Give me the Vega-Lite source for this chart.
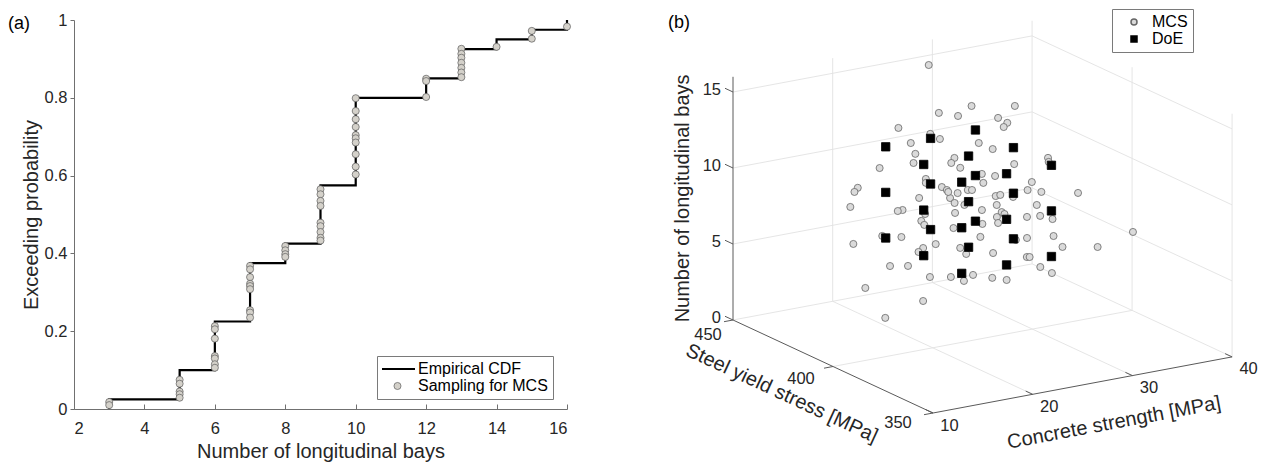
{
  "$schema": "https://vega.github.io/schema/vega-lite/v6.json",
  "autosize": {"type": "pad"},
  "padding": {"left": 8, "top": 8, "right": 0, "bottom": 0},
  "background": "white",
  "spacing": 68,
  "config": {
    "font": "Liberation Sans",
    "view": {"stroke": null},
    "axis": {"labelFont": "Liberation Sans", "titleFont": "Liberation Sans", "labelColor": "#262626", "titleColor": "#262626", "titleFontWeight": "normal", "domainColor": "#707070", "tickColor": "#707070", "grid": false},
    "legend": {"labelFont": "Liberation Sans", "labelColor": "#000000"},
    "text": {"font": "Liberation Sans", "color": "#262626"}
  },
  "resolve": {
    "scale": {"x": "independent", "y": "independent", "shape": "independent", "fill": "independent", "stroke": "independent", "size": "independent", "strokeWidth": "independent"},
    "legend": {"shape": "independent", "fill": "independent", "stroke": "independent", "size": "independent", "strokeWidth": "independent"}
  },
  "datasets": {
    "cdf": [
      {"nb": 3, "p": 0}, {"nb": 3, "p": 0.025}, {"nb": 5, "p": 0.1}, {"nb": 6, "p": 0.225},
      {"nb": 7, "p": 0.375}, {"nb": 8, "p": 0.425}, {"nb": 9, "p": 0.575}, {"nb": 10, "p": 0.8},
      {"nb": 12, "p": 0.85}, {"nb": 13, "p": 0.925}, {"nb": 14, "p": 0.95}, {"nb": 15, "p": 0.975},
      {"nb": 16, "p": 1}
    ],
    "samples": [
      {"nb": 3, "p": 0.018, "series": "Sampling for MCS"}, {"nb": 3, "p": 0.010, "series": "Sampling for MCS"},
      {"nb": 5, "p": 0.075, "series": "Sampling for MCS"}, {"nb": 5, "p": 0.065, "series": "Sampling for MCS"},
      {"nb": 5, "p": 0.045, "series": "Sampling for MCS"}, {"nb": 5, "p": 0.038, "series": "Sampling for MCS"},
      {"nb": 5, "p": 0.029, "series": "Sampling for MCS"},
      {"nb": 6, "p": 0.213, "series": "Sampling for MCS"}, {"nb": 6, "p": 0.205, "series": "Sampling for MCS"},
      {"nb": 6, "p": 0.181, "series": "Sampling for MCS"}, {"nb": 6, "p": 0.136, "series": "Sampling for MCS"},
      {"nb": 6, "p": 0.130, "series": "Sampling for MCS"}, {"nb": 6, "p": 0.115, "series": "Sampling for MCS"},
      {"nb": 6, "p": 0.106, "series": "Sampling for MCS"},
      {"nb": 7, "p": 0.368, "series": "Sampling for MCS"}, {"nb": 7, "p": 0.359, "series": "Sampling for MCS"},
      {"nb": 7, "p": 0.339, "series": "Sampling for MCS"}, {"nb": 7, "p": 0.322, "series": "Sampling for MCS"},
      {"nb": 7, "p": 0.316, "series": "Sampling for MCS"}, {"nb": 7, "p": 0.308, "series": "Sampling for MCS"},
      {"nb": 7, "p": 0.254, "series": "Sampling for MCS"}, {"nb": 7, "p": 0.248, "series": "Sampling for MCS"},
      {"nb": 7, "p": 0.235, "series": "Sampling for MCS"},
      {"nb": 8, "p": 0.419, "series": "Sampling for MCS"}, {"nb": 8, "p": 0.408, "series": "Sampling for MCS"},
      {"nb": 8, "p": 0.398, "series": "Sampling for MCS"}, {"nb": 8, "p": 0.391, "series": "Sampling for MCS"},
      {"nb": 9, "p": 0.565, "series": "Sampling for MCS"}, {"nb": 9, "p": 0.552, "series": "Sampling for MCS"},
      {"nb": 9, "p": 0.535, "series": "Sampling for MCS"}, {"nb": 9, "p": 0.522, "series": "Sampling for MCS"},
      {"nb": 9, "p": 0.479, "series": "Sampling for MCS"}, {"nb": 9, "p": 0.470, "series": "Sampling for MCS"},
      {"nb": 9, "p": 0.455, "series": "Sampling for MCS"}, {"nb": 9, "p": 0.440, "series": "Sampling for MCS"},
      {"nb": 9, "p": 0.433, "series": "Sampling for MCS"},
      {"nb": 10, "p": 0.799, "series": "Sampling for MCS"}, {"nb": 10, "p": 0.766, "series": "Sampling for MCS"},
      {"nb": 10, "p": 0.745, "series": "Sampling for MCS"}, {"nb": 10, "p": 0.725, "series": "Sampling for MCS"},
      {"nb": 10, "p": 0.704, "series": "Sampling for MCS"}, {"nb": 10, "p": 0.696, "series": "Sampling for MCS"},
      {"nb": 10, "p": 0.685, "series": "Sampling for MCS"}, {"nb": 10, "p": 0.655, "series": "Sampling for MCS"},
      {"nb": 10, "p": 0.623, "series": "Sampling for MCS"}, {"nb": 10, "p": 0.603, "series": "Sampling for MCS"},
      {"nb": 12, "p": 0.849, "series": "Sampling for MCS"}, {"nb": 12, "p": 0.843, "series": "Sampling for MCS"},
      {"nb": 12, "p": 0.802, "series": "Sampling for MCS"},
      {"nb": 13, "p": 0.926, "series": "Sampling for MCS"}, {"nb": 13, "p": 0.913, "series": "Sampling for MCS"},
      {"nb": 13, "p": 0.903, "series": "Sampling for MCS"}, {"nb": 13, "p": 0.890, "series": "Sampling for MCS"},
      {"nb": 13, "p": 0.877, "series": "Sampling for MCS"}, {"nb": 13, "p": 0.865, "series": "Sampling for MCS"},
      {"nb": 13, "p": 0.853, "series": "Sampling for MCS"},
      {"nb": 14, "p": 0.931, "series": "Sampling for MCS"},
      {"nb": 15, "p": 0.972, "series": "Sampling for MCS"}, {"nb": 15, "p": 0.952, "series": "Sampling for MCS"},
      {"nb": 16, "p": 0.983, "series": "Sampling for MCS"}
    ],
    "grid3d": [
      {"fc1": 20, "fy1": 350, "nb1": 0, "fc2": 20, "fy2": 450, "nb2": 0},
      {"fc1": 30, "fy1": 350, "nb1": 0, "fc2": 30, "fy2": 450, "nb2": 0},
      {"fc1": 40, "fy1": 350, "nb1": 0, "fc2": 40, "fy2": 450, "nb2": 0},
      {"fc1": 10, "fy1": 400, "nb1": 0, "fc2": 40, "fy2": 400, "nb2": 0},
      {"fc1": 10, "fy1": 450, "nb1": 0, "fc2": 40, "fy2": 450, "nb2": 0},
      {"fc1": 10, "fy1": 450, "nb1": 5, "fc2": 40, "fy2": 450, "nb2": 5},
      {"fc1": 10, "fy1": 450, "nb1": 10, "fc2": 40, "fy2": 450, "nb2": 10},
      {"fc1": 10, "fy1": 450, "nb1": 15, "fc2": 40, "fy2": 450, "nb2": 15},
      {"fc1": 20, "fy1": 450, "nb1": 0, "fc2": 20, "fy2": 450, "nb2": 16},
      {"fc1": 30, "fy1": 450, "nb1": 0, "fc2": 30, "fy2": 450, "nb2": 16},
      {"fc1": 40, "fy1": 450, "nb1": 0, "fc2": 40, "fy2": 450, "nb2": 16},
      {"fc1": 40, "fy1": 450, "nb1": 5, "fc2": 40, "fy2": 350, "nb2": 5},
      {"fc1": 40, "fy1": 450, "nb1": 10, "fc2": 40, "fy2": 350, "nb2": 10},
      {"fc1": 40, "fy1": 450, "nb1": 15, "fc2": 40, "fy2": 350, "nb2": 15},
      {"fc1": 40, "fy1": 400, "nb1": 0, "fc2": 40, "fy2": 400, "nb2": 16},
      {"fc1": 40, "fy1": 350, "nb1": 0, "fc2": 40, "fy2": 350, "nb2": 16}
    ],
    "axis3d": [
      {"fc1": 10, "fy1": 450, "nb1": 0, "fc2": 10, "fy2": 450, "nb2": 16},
      {"fc1": 10, "fy1": 450, "nb1": 0, "fc2": 10, "fy2": 350, "nb2": 0},
      {"fc1": 10, "fy1": 350, "nb1": 0, "fc2": 40, "fy2": 350, "nb2": 0},
      {"fc1": 10, "fy1": 450, "nb1": 0, "fc2": 10, "fy2": 454, "nb2": 0},
      {"fc1": 10, "fy1": 450, "nb1": 5, "fc2": 10, "fy2": 454, "nb2": 5},
      {"fc1": 10, "fy1": 450, "nb1": 10, "fc2": 10, "fy2": 454, "nb2": 10},
      {"fc1": 10, "fy1": 450, "nb1": 15, "fc2": 10, "fy2": 454, "nb2": 15},
      {"fc1": 10, "fy1": 350, "nb1": 0, "fc2": 9.1, "fy2": 350, "nb2": 0},
      {"fc1": 10, "fy1": 400, "nb1": 0, "fc2": 9.1, "fy2": 400, "nb2": 0},
      {"fc1": 10, "fy1": 450, "nb1": 0, "fc2": 9.1, "fy2": 450, "nb2": 0},
      {"fc1": 10, "fy1": 350, "nb1": 0, "fc2": 10, "fy2": 353.5, "nb2": 0},
      {"fc1": 20, "fy1": 350, "nb1": 0, "fc2": 20, "fy2": 353.5, "nb2": 0},
      {"fc1": 30, "fy1": 350, "nb1": 0, "fc2": 30, "fy2": 353.5, "nb2": 0},
      {"fc1": 40, "fy1": 350, "nb1": 0, "fc2": 40, "fy2": 353.5, "nb2": 0}
    ],
    "labels3d": [
      {"fc": 10, "fy": 450, "nb": 0, "label": "0", "axis": "z"},
      {"fc": 10, "fy": 450, "nb": 5, "label": "5", "axis": "z"},
      {"fc": 10, "fy": 450, "nb": 10, "label": "10", "axis": "z"},
      {"fc": 10, "fy": 450, "nb": 15, "label": "15", "axis": "z"},
      {"fc": 10, "fy": 350, "nb": 0, "label": "350", "axis": "fy350"},
      {"fc": 10, "fy": 400, "nb": 0, "label": "400", "axis": "fy400"},
      {"fc": 10, "fy": 450, "nb": 0, "label": "450", "axis": "fy450"},
      {"fc": 10, "fy": 350, "nb": 0, "label": "10", "axis": "fc"},
      {"fc": 20, "fy": 350, "nb": 0, "label": "20", "axis": "fc"},
      {"fc": 30, "fy": 350, "nb": 0, "label": "30", "axis": "fc"},
      {"fc": 40, "fy": 350, "nb": 0, "label": "40", "axis": "fc"}
    ],
    "scatter3d": [
      {"fc": 25.8, "fy": 430.9, "nb": 16, "method": "MCS"},
      {"fc": 21.5, "fy": 404.4, "nb": 15, "method": "MCS"},
      {"fc": 22.4, "fy": 399.3, "nb": 15, "method": "MCS"},
      {"fc": 16.3, "fy": 398.7, "nb": 15, "method": "MCS"},
      {"fc": 20.0, "fy": 401.2, "nb": 14, "method": "MCS"},
      {"fc": 19.9, "fy": 395.9, "nb": 14, "method": "MCS"},
      {"fc": 17.2, "fy": 397.0, "nb": 14, "method": "MCS"},
      {"fc": 18.2, "fy": 399.7, "nb": 13, "method": "MCS"},
      {"fc": 19.0, "fy": 404.6, "nb": 12, "method": "MCS"},
      {"fc": 15.8, "fy": 405.6, "nb": 12, "method": "MCS"},
      {"fc": 22.7, "fy": 402.6, "nb": 12, "method": "MCS"},
      {"fc": 21.7, "fy": 399.2, "nb": 12, "method": "MCS"},
      {"fc": 21.6, "fy": 394.2, "nb": 12, "method": "MCS"},
      {"fc": 22.1, "fy": 413.9, "nb": 10, "method": "MCS"},
      {"fc": 21.5, "fy": 410.9, "nb": 10, "method": "MCS"},
      {"fc": 22.0, "fy": 405.4, "nb": 10, "method": "MCS"},
      {"fc": 21.9, "fy": 402.4, "nb": 10, "method": "MCS"},
      {"fc": 11.2, "fy": 393.6, "nb": 12, "method": "MCS"},
      {"fc": 15.0, "fy": 414.2, "nb": 10, "method": "MCS"},
      {"fc": 22.2, "fy": 398.5, "nb": 10, "method": "MCS"},
      {"fc": 18.7, "fy": 400.3, "nb": 10, "method": "MCS"},
      {"fc": 20.9, "fy": 395.8, "nb": 10, "method": "MCS"},
      {"fc": 22.8, "fy": 403.0, "nb": 9, "method": "MCS"},
      {"fc": 12.4, "fy": 403.3, "nb": 10, "method": "MCS"},
      {"fc": 18.0, "fy": 405.1, "nb": 9, "method": "MCS"},
      {"fc": 17.5, "fy": 405.0, "nb": 9, "method": "MCS"},
      {"fc": 21.3, "fy": 395.3, "nb": 9, "method": "MCS"},
      {"fc": 19.0, "fy": 398.8, "nb": 9, "method": "MCS"},
      {"fc": 20.0, "fy": 405.7, "nb": 8, "method": "MCS"},
      {"fc": 19.6, "fy": 402.2, "nb": 8, "method": "MCS"},
      {"fc": 21.2, "fy": 395.6, "nb": 8, "method": "MCS"},
      {"fc": 14.9, "fy": 399.8, "nb": 8, "method": "MCS"},
      {"fc": 16.1, "fy": 396.2, "nb": 8, "method": "MCS"},
      {"fc": 11.6, "fy": 397.8, "nb": 8, "method": "MCS"},
      {"fc": 18.3, "fy": 396.3, "nb": 7, "method": "MCS"},
      {"fc": 19.8, "fy": 397.5, "nb": 7, "method": "MCS"},
      {"fc": 19.7, "fy": 405.6, "nb": 6, "method": "MCS"},
      {"fc": 23.3, "fy": 402.7, "nb": 6, "method": "MCS"},
      {"fc": 15.5, "fy": 398.9, "nb": 6, "method": "MCS"},
      {"fc": 16.8, "fy": 396.4, "nb": 6, "method": "MCS"},
      {"fc": 19.0, "fy": 396.4, "nb": 5, "method": "MCS"},
      {"fc": 20.5, "fy": 393.4, "nb": 5, "method": "MCS"},
      {"fc": 12.7, "fy": 397.3, "nb": 5, "method": "MCS"},
      {"fc": 19.5, "fy": 402.3, "nb": 3, "method": "MCS"},
      {"fc": 14.2, "fy": 394.8, "nb": 3, "method": "MCS"},
      {"fc": 24.9, "fy": 405.0, "nb": 15, "method": "MCS"},
      {"fc": 28.0, "fy": 398.8, "nb": 15, "method": "MCS"},
      {"fc": 27.3, "fy": 403.7, "nb": 14, "method": "MCS"},
      {"fc": 27.2, "fy": 398.6, "nb": 14, "method": "MCS"},
      {"fc": 26.3, "fy": 395.9, "nb": 14, "method": "MCS"},
      {"fc": 24.4, "fy": 398.9, "nb": 13, "method": "MCS"},
      {"fc": 26.8, "fy": 403.9, "nb": 12, "method": "MCS"},
      {"fc": 30.7, "fy": 412.6, "nb": 10, "method": "MCS"},
      {"fc": 29.4, "fy": 389.2, "nb": 12, "method": "MCS"},
      {"fc": 33.5, "fy": 409.3, "nb": 10, "method": "MCS"},
      {"fc": 22.2, "fy": 386.4, "nb": 12, "method": "MCS"},
      {"fc": 25.6, "fy": 402.6, "nb": 10, "method": "MCS"},
      {"fc": 27.5, "fy": 406.2, "nb": 10, "method": "MCS"},
      {"fc": 21.7, "fy": 400.7, "nb": 10, "method": "MCS"},
      {"fc": 23.4, "fy": 399.4, "nb": 10, "method": "MCS"},
      {"fc": 23.7, "fy": 398.8, "nb": 10, "method": "MCS"},
      {"fc": 23.2, "fy": 400.1, "nb": 9, "method": "MCS"},
      {"fc": 26.8, "fy": 402.4, "nb": 9, "method": "MCS"},
      {"fc": 27.3, "fy": 402.6, "nb": 9, "method": "MCS"},
      {"fc": 25.5, "fy": 395.4, "nb": 9, "method": "MCS"},
      {"fc": 27.9, "fy": 399.2, "nb": 9, "method": "MCS"},
      {"fc": 29.2, "fy": 396.3, "nb": 10, "method": "MCS"},
      {"fc": 30.0, "fy": 402.4, "nb": 9, "method": "MCS"},
      {"fc": 30.7, "fy": 399.0, "nb": 9, "method": "MCS"},
      {"fc": 35.5, "fy": 404.6, "nb": 8, "method": "MCS"},
      {"fc": 30.7, "fy": 401.3, "nb": 8, "method": "MCS"},
      {"fc": 26.0, "fy": 405.3, "nb": 8, "method": "MCS"},
      {"fc": 27.1, "fy": 400.9, "nb": 8, "method": "MCS"},
      {"fc": 26.0, "fy": 397.8, "nb": 8, "method": "MCS"},
      {"fc": 27.0, "fy": 399.0, "nb": 8, "method": "MCS"},
      {"fc": 27.5, "fy": 404.7, "nb": 7, "method": "MCS"},
      {"fc": 23.9, "fy": 394.6, "nb": 8, "method": "MCS"},
      {"fc": 30.5, "fy": 405.2, "nb": 7, "method": "MCS"},
      {"fc": 31.6, "fy": 404.1, "nb": 7, "method": "MCS"},
      {"fc": 32.0, "fy": 399.9, "nb": 7, "method": "MCS"},
      {"fc": 24.1, "fy": 396.6, "nb": 7, "method": "MCS"},
      {"fc": 28.5, "fy": 400.8, "nb": 6, "method": "MCS"},
      {"fc": 29.6, "fy": 400.7, "nb": 6, "method": "MCS"},
      {"fc": 31.8, "fy": 398.4, "nb": 6, "method": "MCS"},
      {"fc": 38.1, "fy": 390.1, "nb": 6, "method": "MCS"},
      {"fc": 22.8, "fy": 397.2, "nb": 6, "method": "MCS"},
      {"fc": 27.2, "fy": 405.7, "nb": 5, "method": "MCS"},
      {"fc": 29.0, "fy": 397.8, "nb": 5, "method": "MCS"},
      {"fc": 29.2, "fy": 397.4, "nb": 5, "method": "MCS"},
      {"fc": 33.1, "fy": 400.4, "nb": 5, "method": "MCS"},
      {"fc": 35.6, "fy": 395.3, "nb": 5, "method": "MCS"},
      {"fc": 33.1, "fy": 411.5, "nb": 3, "method": "MCS"},
      {"fc": 33.0, "fy": 405.2, "nb": 3, "method": "MCS"},
      {"fc": 22.4, "fy": 391.8, "nb": 5, "method": "MCS"},
      {"fc": 25.5, "fy": 411.8, "nb": 3, "method": "MCS"},
      {"fc": 28.0, "fy": 410.1, "nb": 3, "method": "MCS"},
      {"fc": 28.7, "fy": 406.4, "nb": 3, "method": "MCS"},
      {"fc": 19.5, "fy": 383, "nb": 6, "method": "DoE"},
      {"fc": 19.5, "fy": 383, "nb": 9, "method": "DoE"},
      {"fc": 19.5, "fy": 383, "nb": 12, "method": "DoE"},
      {"fc": 19.5, "fy": 402, "nb": 6, "method": "DoE"},
      {"fc": 19.5, "fy": 402, "nb": 9, "method": "DoE"},
      {"fc": 19.5, "fy": 402, "nb": 12, "method": "DoE"},
      {"fc": 19.5, "fy": 421, "nb": 6, "method": "DoE"},
      {"fc": 19.5, "fy": 421, "nb": 9, "method": "DoE"},
      {"fc": 19.5, "fy": 421, "nb": 12, "method": "DoE"},
      {"fc": 24, "fy": 383, "nb": 6, "method": "DoE"},
      {"fc": 24, "fy": 383, "nb": 9, "method": "DoE"},
      {"fc": 24, "fy": 383, "nb": 12, "method": "DoE"},
      {"fc": 24, "fy": 402, "nb": 6, "method": "DoE"},
      {"fc": 24, "fy": 402, "nb": 9, "method": "DoE"},
      {"fc": 24, "fy": 402, "nb": 12, "method": "DoE"},
      {"fc": 24, "fy": 421, "nb": 6, "method": "DoE"},
      {"fc": 24, "fy": 421, "nb": 9, "method": "DoE"},
      {"fc": 24, "fy": 421, "nb": 12, "method": "DoE"},
      {"fc": 28.5, "fy": 383, "nb": 6, "method": "DoE"},
      {"fc": 28.5, "fy": 383, "nb": 9, "method": "DoE"},
      {"fc": 28.5, "fy": 383, "nb": 12, "method": "DoE"},
      {"fc": 28.5, "fy": 402, "nb": 6, "method": "DoE"},
      {"fc": 28.5, "fy": 402, "nb": 9, "method": "DoE"},
      {"fc": 28.5, "fy": 402, "nb": 12, "method": "DoE"},
      {"fc": 28.5, "fy": 421, "nb": 6, "method": "DoE"},
      {"fc": 28.5, "fy": 421, "nb": 9, "method": "DoE"},
      {"fc": 28.5, "fy": 421, "nb": 12, "method": "DoE"}
    ]
  },
  "hconcat": [
    {
      "width": 493,
      "height": 389,
      "layer": [
        {
          "data": {"name": "cdf"},
          "mark": {"type": "line", "interpolate": "step-after", "color": "#000000", "strokeWidth": 2.2},
          "encoding": {
            "x": {"field": "nb", "type": "quantitative", "scale": {"domain": [2, 16], "nice": false, "zero": false},
              "axis": {"values": [2, 4, 6, 8, 10, 12, 14, 16], "title": "Number of longitudinal bays", "titleFontSize": 20, "labelFontSize": 16.5, "tickSize": -5, "labelPadding": 16, "titlePadding": 5}},
            "y": {"field": "p", "type": "quantitative", "scale": {"domain": [0, 1], "nice": false},
              "axis": {"values": [0, 0.2, 0.4, 0.6, 0.8, 1], "format": "~g", "title": "Exceeding probability", "titleFontSize": 20, "labelFontSize": 16.5, "tickSize": 4, "labelPadding": 3, "titlePadding": 3}},
            "order": {"field": "p", "type": "quantitative"}
          }
        },
        {
          "data": {"name": "samples"},
          "mark": {"type": "point", "filled": true, "fill": "#d4d1ca", "size": 50, "opacity": 1},
          "encoding": {
            "x": {"field": "nb", "type": "quantitative"},
            "y": {"field": "p", "type": "quantitative"},
            "size": {"field": "series", "type": "nominal",
              "scale": {"domain": ["Empirical CDF", "Sampling for MCS"], "range": [1225, 50]}},
            "stroke": {"field": "series", "type": "nominal",
              "scale": {"domain": ["Empirical CDF", "Sampling for MCS"], "range": ["#000000", "#5c5c5c"]}},
            "strokeWidth": {"field": "series", "type": "nominal",
              "scale": {"domain": ["Empirical CDF", "Sampling for MCS"], "range": [2.2, 0.7]}},
            "shape": {"field": "series", "type": "nominal",
              "scale": {"domain": ["Empirical CDF", "Sampling for MCS"], "range": ["stroke", "circle"]},
              "legend": {"title": null, "orient": "none", "legendX": 303, "legendY": 336, "direction": "vertical",
                "strokeColor": "#7a7a7a", "fillColor": "#ffffff", "padding": 5, "labelFontSize": 16,
                "labelOffset": 1.5, "symbolOffset": -3.5, "rowPadding": 1, "clipHeight": 16,
                "symbolFillColor": "#d4d1ca", "symbolOpacity": 1}
            }
          }
        },
        {
          "data": {"values": [{"label": "(a)"}]},
          "mark": {"type": "text", "dx": -55, "dy": 4, "align": "center", "baseline": "middle", "fontSize": 18, "color": "#000000"},
          "encoding": {
            "x": {"datum": 2, "type": "quantitative"},
            "y": {"datum": 1, "type": "quantitative"},
            "text": {"field": "label", "type": "nominal"}
          }
        }
      ]
    },
    {
      "width": 628,
      "height": 443,
      "layer": [
        {
          "data": {"name": "grid3d"},
          "transform": [
            {"calculate": "9.97*(datum.fc1-10)-2.0*(datum.fy1-450)", "as": "x1"},
            {"calculate": "1.87*(datum.fc1-10)+0.93*(datum.fy1-450)+15.2*datum.nb1", "as": "y1"},
            {"calculate": "9.97*(datum.fc2-10)-2.0*(datum.fy2-450)", "as": "x2"},
            {"calculate": "1.87*(datum.fc2-10)+0.93*(datum.fy2-450)+15.2*datum.nb2", "as": "y2"}
          ],
          "mark": {"type": "rule", "color": "#e2e2e2", "strokeWidth": 0.9},
          "encoding": {
            "x": {"field": "x1", "type": "quantitative", "scale": {"domain": [-93, 535], "nice": false, "zero": false}, "axis": null},
            "y": {"field": "y1", "type": "quantitative", "scale": {"domain": [-143, 300], "nice": false, "zero": false}, "axis": null},
            "x2": {"field": "x2"},
            "y2": {"field": "y2"}
          }
        },
        {
          "data": {"name": "axis3d"},
          "transform": [
            {"calculate": "9.97*(datum.fc1-10)-2.0*(datum.fy1-450)", "as": "x1"},
            {"calculate": "1.87*(datum.fc1-10)+0.93*(datum.fy1-450)+15.2*datum.nb1", "as": "y1"},
            {"calculate": "9.97*(datum.fc2-10)-2.0*(datum.fy2-450)", "as": "x2"},
            {"calculate": "1.87*(datum.fc2-10)+0.93*(datum.fy2-450)+15.2*datum.nb2", "as": "y2"}
          ],
          "mark": {"type": "rule", "color": "#5a5a5a", "strokeWidth": 1},
          "encoding": {
            "x": {"field": "x1", "type": "quantitative", "scale": {"domain": [-93, 535], "nice": false, "zero": false}, "axis": null},
            "y": {"field": "y1", "type": "quantitative", "scale": {"domain": [-143, 300], "nice": false, "zero": false}, "axis": null},
            "x2": {"field": "x2"},
            "y2": {"field": "y2"}
          }
        },
        {
          "data": {"name": "labels3d"},
          "transform": [
            {"filter": "datum.axis === 'z'"},
            {"calculate": "9.97*(datum.fc-10)-2.0*(datum.fy-450)", "as": "px"},
            {"calculate": "1.87*(datum.fc-10)+0.93*(datum.fy-450)+15.2*datum.nb", "as": "py"}
          ],
          "mark": {"type": "text", "align": "right", "baseline": "middle", "dx": -12, "dy": -2, "fontSize": 16.5},
          "encoding": {
            "x": {"field": "px", "type": "quantitative", "scale": {"domain": [-93, 535], "nice": false, "zero": false}, "axis": null},
            "y": {"field": "py", "type": "quantitative", "scale": {"domain": [-143, 300], "nice": false, "zero": false}, "axis": null},
            "text": {"field": "label", "type": "nominal"}
          }
        },
        {
          "data": {"name": "labels3d"},
          "transform": [
            {"filter": "datum.axis === 'fy450'"},
            {"calculate": "9.97*(datum.fc-10)-2.0*(datum.fy-450)", "as": "px"},
            {"calculate": "1.87*(datum.fc-10)+0.93*(datum.fy-450)+15.2*datum.nb", "as": "py"}
          ],
          "mark": {"type": "text", "align": "center", "baseline": "middle", "dx": -25, "dy": 15, "fontSize": 16.5},
          "encoding": {
            "x": {"field": "px", "type": "quantitative", "scale": {"domain": [-93, 535], "nice": false, "zero": false}, "axis": null},
            "y": {"field": "py", "type": "quantitative", "scale": {"domain": [-143, 300], "nice": false, "zero": false}, "axis": null},
            "text": {"field": "label", "type": "nominal"}
          }
        },
        {
          "data": {"name": "labels3d"},
          "transform": [
            {"filter": "datum.axis === 'fy400'"},
            {"calculate": "9.97*(datum.fc-10)-2.0*(datum.fy-450)", "as": "px"},
            {"calculate": "1.87*(datum.fc-10)+0.93*(datum.fy-450)+15.2*datum.nb", "as": "py"}
          ],
          "mark": {"type": "text", "align": "center", "baseline": "middle", "dx": -32, "dy": 12.5, "fontSize": 16.5},
          "encoding": {
            "x": {"field": "px", "type": "quantitative", "scale": {"domain": [-93, 535], "nice": false, "zero": false}, "axis": null},
            "y": {"field": "py", "type": "quantitative", "scale": {"domain": [-143, 300], "nice": false, "zero": false}, "axis": null},
            "text": {"field": "label", "type": "nominal"}
          }
        },
        {
          "data": {"name": "labels3d"},
          "transform": [
            {"filter": "datum.axis === 'fy350'"},
            {"calculate": "9.97*(datum.fc-10)-2.0*(datum.fy-450)", "as": "px"},
            {"calculate": "1.87*(datum.fc-10)+0.93*(datum.fy-450)+15.2*datum.nb", "as": "py"}
          ],
          "mark": {"type": "text", "align": "center", "baseline": "middle", "dx": -35, "dy": 9.5, "fontSize": 16.5},
          "encoding": {
            "x": {"field": "px", "type": "quantitative", "scale": {"domain": [-93, 535], "nice": false, "zero": false}, "axis": null},
            "y": {"field": "py", "type": "quantitative", "scale": {"domain": [-143, 300], "nice": false, "zero": false}, "axis": null},
            "text": {"field": "label", "type": "nominal"}
          }
        },
        {
          "data": {"name": "labels3d"},
          "transform": [
            {"filter": "datum.axis === 'fc'"},
            {"calculate": "9.97*(datum.fc-10)-2.0*(datum.fy-450)", "as": "px"},
            {"calculate": "1.87*(datum.fc-10)+0.93*(datum.fy-450)+15.2*datum.nb", "as": "py"}
          ],
          "mark": {"type": "text", "align": "center", "baseline": "middle", "dx": 16.5, "dy": 12.5, "fontSize": 16.5},
          "encoding": {
            "x": {"field": "px", "type": "quantitative", "scale": {"domain": [-93, 535], "nice": false, "zero": false}, "axis": null},
            "y": {"field": "py", "type": "quantitative", "scale": {"domain": [-143, 300], "nice": false, "zero": false}, "axis": null},
            "text": {"field": "label", "type": "nominal"}
          }
        },
        {
          "data": {"values": [{"fc": 10, "fy": 450, "nb": 8, "label": "Number of longitudinal bays"}]},
          "transform": [
            {"calculate": "9.97*(datum.fc-10)-2.0*(datum.fy-450)", "as": "px"},
            {"calculate": "1.87*(datum.fc-10)+0.93*(datum.fy-450)+15.2*datum.nb", "as": "py"}
          ],
          "mark": {"type": "text", "align": "center", "baseline": "middle", "angle": 270, "dy": -50, "fontSize": 20},
          "encoding": {
            "x": {"field": "px", "type": "quantitative", "scale": {"domain": [-93, 535], "nice": false, "zero": false}, "axis": null},
            "y": {"field": "py", "type": "quantitative", "scale": {"domain": [-143, 300], "nice": false, "zero": false}, "axis": null},
            "text": {"field": "label", "type": "nominal"}
          }
        },
        {
          "data": {"values": [{"fc": 10, "fy": 400, "nb": 0, "label": "Steel yield stress [MPa]"}]},
          "transform": [
            {"calculate": "9.97*(datum.fc-10)-2.0*(datum.fy-450)", "as": "px"},
            {"calculate": "1.87*(datum.fc-10)+0.93*(datum.fy-450)+15.2*datum.nb", "as": "py"}
          ],
          "mark": {"type": "text", "align": "center", "baseline": "middle", "angle": 24.9, "dx": -35, "dy": 46, "fontSize": 20},
          "encoding": {
            "x": {"field": "px", "type": "quantitative", "scale": {"domain": [-93, 535], "nice": false, "zero": false}, "axis": null},
            "y": {"field": "py", "type": "quantitative", "scale": {"domain": [-143, 300], "nice": false, "zero": false}, "axis": null},
            "text": {"field": "label", "type": "nominal"}
          }
        },
        {
          "data": {"values": [{"fc": 25, "fy": 350, "nb": 0, "label": "Concrete strength [MPa]"}]},
          "transform": [
            {"calculate": "9.97*(datum.fc-10)-2.0*(datum.fy-450)", "as": "px"},
            {"calculate": "1.87*(datum.fc-10)+0.93*(datum.fy-450)+15.2*datum.nb", "as": "py"}
          ],
          "mark": {"type": "text", "align": "center", "baseline": "middle", "angle": 349.4, "dx": 24, "dy": 43, "fontSize": 20},
          "encoding": {
            "x": {"field": "px", "type": "quantitative", "scale": {"domain": [-93, 535], "nice": false, "zero": false}, "axis": null},
            "y": {"field": "py", "type": "quantitative", "scale": {"domain": [-143, 300], "nice": false, "zero": false}, "axis": null},
            "text": {"field": "label", "type": "nominal"}
          }
        },
        {
          "data": {"values": [{"fc": 10, "fy": 450, "nb": 16, "label": "(b)"}]},
          "transform": [
            {"calculate": "9.97*(datum.fc-10)-2.0*(datum.fy-450)", "as": "px"},
            {"calculate": "1.87*(datum.fc-10)+0.93*(datum.fy-450)+15.2*datum.nb", "as": "py"}
          ],
          "mark": {"type": "text", "align": "center", "baseline": "middle", "dx": -54, "dy": -54, "fontSize": 18, "color": "#000000"},
          "encoding": {
            "x": {"field": "px", "type": "quantitative", "scale": {"domain": [-93, 535], "nice": false, "zero": false}, "axis": null},
            "y": {"field": "py", "type": "quantitative", "scale": {"domain": [-143, 300], "nice": false, "zero": false}, "axis": null},
            "text": {"field": "label", "type": "nominal"}
          }
        },
        {
          "data": {"name": "scatter3d"},
          "transform": [
            {"calculate": "9.97*(datum.fc-10)-2.0*(datum.fy-450)", "as": "px"},
            {"calculate": "1.87*(datum.fc-10)+0.93*(datum.fy-450)+15.2*datum.nb", "as": "py"}
          ],
          "mark": {"type": "point", "filled": true, "strokeWidth": 0.8, "opacity": 1},
          "encoding": {
            "x": {"field": "px", "type": "quantitative", "scale": {"domain": [-93, 535], "nice": false, "zero": false}, "axis": null},
            "y": {"field": "py", "type": "quantitative", "scale": {"domain": [-143, 300], "nice": false, "zero": false}, "axis": null},
            "fill": {"field": "method", "type": "nominal", "scale": {"domain": ["MCS", "DoE"], "range": ["#dadada", "#000000"]}},
            "stroke": {"field": "method", "type": "nominal", "scale": {"domain": ["MCS", "DoE"], "range": ["#666666", "#000000"]}},
            "size": {"condition": {"test": "datum.method === 'DoE'", "value": 70}, "value": 50},
            "shape": {"field": "method", "type": "nominal",
              "scale": {"domain": ["MCS", "DoE"], "range": ["circle", "square"]},
              "legend": {"title": null, "orient": "none", "legendX": 472, "legendY": -11, "direction": "vertical",
                "strokeColor": "#7a7a7a", "fillColor": "#ffffff", "padding": 5, "labelFontSize": 16,
                "labelOffset": 10, "symbolOffset": 9, "rowPadding": 1, "symbolSize": 36, "symbolOpacity": 1}
            }
          }
        }
      ]
    }
  ]
}
